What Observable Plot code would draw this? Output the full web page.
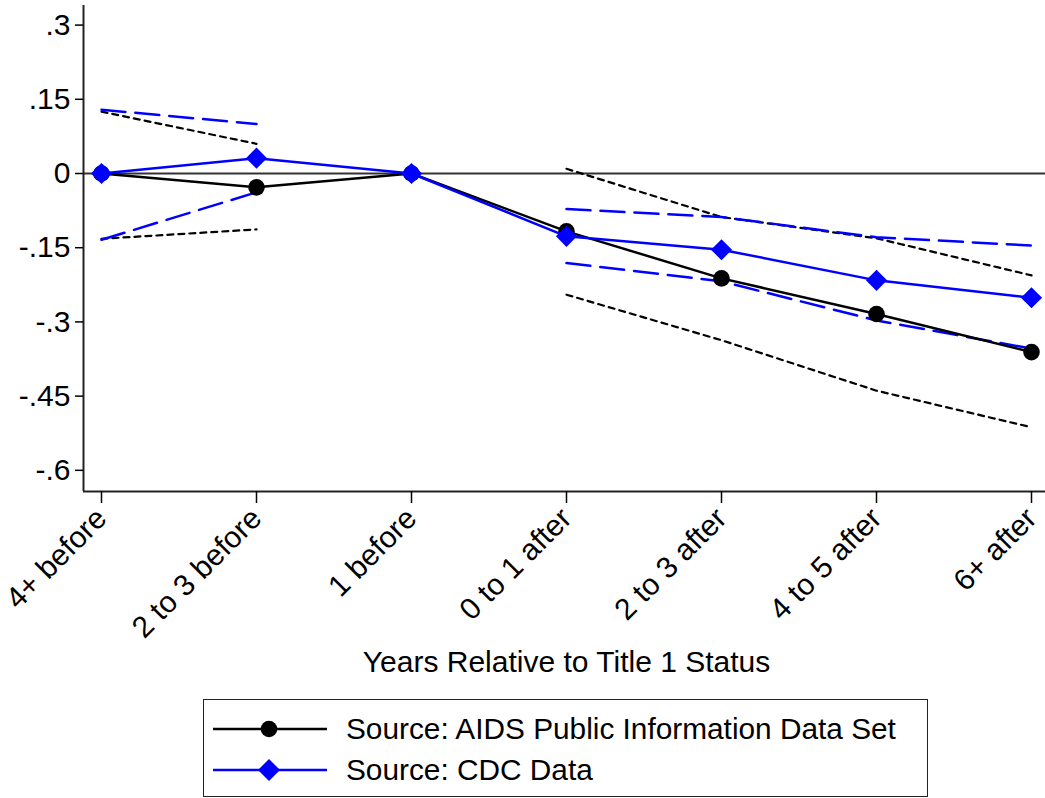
<!DOCTYPE html>
<html><head><meta charset="utf-8">
<script src="https://cdn.jsdelivr.net/npm/d3@7"></script>
<script src="https://cdn.jsdelivr.net/npm/@observablehq/plot@0.6"></script>
<style>
body{margin:0;background:#fff;font-family:"Liberation Sans",Arial,sans-serif;}
#chart{position:relative;width:1045px;height:798px;overflow:hidden;}
#legend{position:absolute;left:203px;top:699px;width:725px;height:98px;border:1.5px solid #222;box-sizing:border-box;background:#fff;}
.row{position:absolute;left:0;height:40px;display:flex;align-items:center;}
.row svg{margin-left:9px;}
.row span{margin-left:19px;font-size:29.8px;color:#000;white-space:nowrap;}
</style></head><body>
<div id="chart"></div>
<script>
const categories = ["4+ before","2 to 3 before","1 before","0 to 1 after","2 to 3 after","4 to 5 after","6+ after"];
const aidsEst   = [0, -0.028, 0, -0.117, -0.212, -0.284, -0.361];
const cdcEst    = [0,  0.031, 0, -0.127, -0.154, -0.216, -0.251];
const aidsUpper = [0.125, 0.060, null, 0.0095, -0.088, -0.131, -0.206];
const aidsLower = [-0.132, -0.113, null, -0.245, -0.337, -0.439, -0.513];
const cdcUpper  = [0.129, 0.100, null, -0.072, -0.088, -0.129, -0.1455];
const cdcLower  = [-0.134, -0.038, null, -0.181, -0.218, -0.297, -0.354];
const yTicks = [0.3, 0.15, 0, -0.15, -0.3, -0.45, -0.6];
const seriesNames = ["Source: AIDS Public Information Data Set", "Source: CDC Data"];
const xTitle = "Years Relative to Title 1 Status";

const rows = categories.map((c, i) => ({
  i, cat: c,
  aids: aidsEst[i], cdc: cdcEst[i],
  aidsUp: aidsUpper[i] ?? undefined, aidsLo: aidsLower[i] ?? undefined,
  cdcUp: cdcUpper[i] ?? undefined, cdcLo: cdcLower[i] ?? undefined
}));

const xDomain = [-0.1161, 6.0903];
const yDomain = [-0.6428, 0.3396];
const fmt = d => d === 0 ? "0" : String(d).replace("0.", ".");
const BLUE = "#0000ff";

const plot = Plot.plot({
  width: 1045,
  height: 698,
  marginLeft: 83,
  marginRight: 0,
  marginTop: 5,
  marginBottom: 207,
  style: {fontFamily: '"Liberation Sans", Arial, sans-serif', color: "#000", background: "#fff"},
  x: {type: "linear", domain: xDomain},
  y: {domain: yDomain},
  marks: [
    Plot.ruleY([0], {stroke: "#333", strokeWidth: 2}),
    Plot.line(rows, {x: "i", y: "aidsUp", stroke: "#000", strokeWidth: 2.2, strokeDasharray: "6,5"}),
    Plot.line(rows, {x: "i", y: "aidsLo", stroke: "#000", strokeWidth: 2.2, strokeDasharray: "6,5"}),
    Plot.line(rows, {x: "i", y: "cdcUp", stroke: BLUE, strokeWidth: 2.5, strokeDasharray: "24,10"}),
    Plot.line(rows, {x: "i", y: "cdcLo", stroke: BLUE, strokeWidth: 2.5, strokeDasharray: "24,10"}),
    Plot.line(rows, {x: "i", y: "aids", stroke: "#000", strokeWidth: 2.5}),
    Plot.dot(rows, {x: "i", y: "aids", r: 8.3, fill: "#000"}),
    Plot.line(rows, {x: "i", y: "cdc", stroke: BLUE, strokeWidth: 2.5}),
    Plot.dot(rows, {x: "i", y: "cdc", r: 9.5, symbol: "diamond2", fill: BLUE}),
    Plot.ruleX([xDomain[0]], {stroke: "#222", strokeWidth: 2}),
    Plot.ruleY([yDomain[0]], {stroke: "#222", strokeWidth: 2}),
    Plot.axisY(yTicks, {tickFormat: fmt, fontSize: 30, tickSize: 8, tickPadding: 5, strokeWidth: 1.5, label: null}),
    Plot.axisX(d3.range(categories.length), {tickFormat: i => categories[i], tickRotate: -45, fontSize: 30, tickSize: 12, tickPadding: 10, strokeWidth: 1.5, label: null}),
    Plot.text([xTitle], {frameAnchor: "bottom", dy: 180, dx: 2, fontSize: 30, fill: "#000"})
  ]
});
const chart = document.getElementById("chart");
chart.appendChild(plot);

const legend = document.createElement("div");
legend.id = "legend";
const makeRow = (top, color, symbol, name) => {
  const row = document.createElement("div");
  row.className = "row";
  row.style.top = top + "px";
  const sym = symbol === "circle"
    ? `<circle cx="56" cy="20" r="8.3" fill="${color}"/>`
    : `<path d="M56,9 L67,20 L56,31 L45,20 Z" fill="${color}"/>`;
  row.innerHTML = `<svg width="114" height="40"><line x1="0" x2="114" y1="20" y2="20" stroke="${color}" stroke-width="2.5"/>${sym}</svg><span>${name}</span>`;
  legend.appendChild(row);
};
makeRow(9, "#000", "circle", seriesNames[0]);
makeRow(50, BLUE, "diamond", seriesNames[1]);
chart.appendChild(legend);
</script>
</body></html>
